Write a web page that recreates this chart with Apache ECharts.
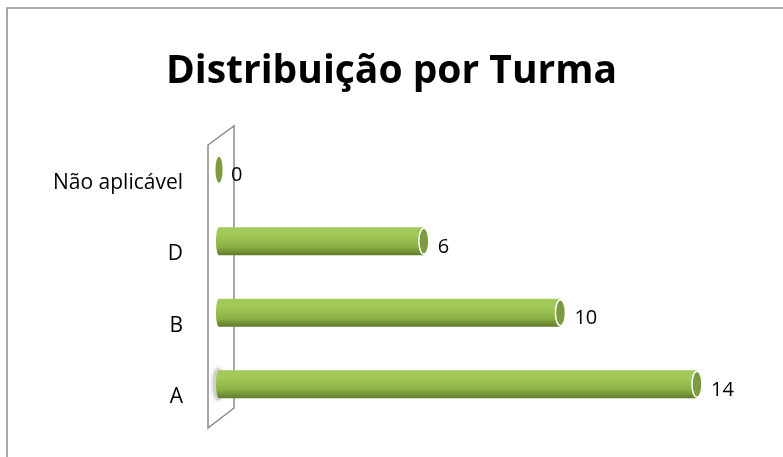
<!DOCTYPE html>
<html><head><meta charset="utf-8">
<script src="https://cdn.jsdelivr.net/npm/echarts@6/dist/echarts.min.js"></script>
<style>html,body{margin:0;padding:0;background:#fff}#c{width:783px;height:457px}</style>
</head><body><div id="c"></div>
<script>
const categories = ['A', 'B', 'D', 'Não aplicável'];
const values = [14, 10, 6, 0];
const titleText = 'Distribuição por Turma';

const chart = echarts.init(document.getElementById('c'));
const font = 'Open Sans';
const depth = 13;

function renderBar(params, api) {
  const v = api.value(1);
  const catIdx = api.value(0);
  const start = api.coord([0, catIdx]);
  const end = api.coord([v, catIdx]);
  const cy = start[1] - depth;
  const h = 28;
  const y = cy - h / 2;
  const grad = new echarts.graphic.LinearGradient(0, 0, 0, 1, [
    {offset: 0, color: '#a4c95c'},
    {offset: 0.3, color: '#a0c857'},
    {offset: 0.7, color: '#8bb045'},
    {offset: 1, color: '#5f7a2a'}
  ]);
  const children = [];
  if (v > 0) {
    if (catIdx === 0) {
      children.push({
        type: 'ellipse',
        shape: {cx: start[0] - 1, cy: cy, rx: 5, ry: h / 2 + 2},
        style: {fill: '#d0d0d0', shadowBlur: 4, shadowColor: 'rgba(0,0,0,0.3)'}
      });
    }
    children.push({
      type: 'rect',
      shape: {x: start[0], y: y, width: end[0] - start[0], height: h},
      style: {fill: grad}
    });
    children.push({
      type: 'ellipse',
      shape: {cx: start[0], cy: cy, rx: 3, ry: h / 2},
      style: {fill: grad}
    });
  }
  children.push({
    type: 'ellipse',
    shape: {cx: end[0], cy: cy, rx: v > 0 ? 5 : 3.5, ry: h / 2 - 1},
    style: {fill: '#7c9a3f', stroke: v > 0 ? '#ffffff' : null, lineWidth: v > 0 ? 1.5 : 0}
  });
  children.push({
    type: 'text',
    style: {
      text: String(v),
      x: end[0] + (v > 0 ? 14 : 12),
      y: cy + 6,
      verticalAlign: 'middle',
      align: 'left',
      fontFamily: font,
      fontSize: 20,
      fill: '#000'
    }
  });
  return {type: 'group', children: children};
}

chart.setOption({
  animation: false,
  title: {
    text: titleText,
    left: 'center',
    top: 47,
    textStyle: {fontFamily: font, fontWeight: 'bold', fontSize: 39, color: '#000'}
  },
  grid: {left: 219, width: 478, top: 147, height: 286},
  xAxis: {
    type: 'value', min: 0, max: 14,
    axisLine: {show: false}, axisTick: {show: false}, axisLabel: {show: false}, splitLine: {show: false}
  },
  yAxis: {
    type: 'category', data: categories,
    axisLine: {show: false}, axisTick: {show: false}, splitLine: {show: false},
    axisLabel: {fontFamily: font, fontSize: 21, color: '#000', margin: 36}
  },
  graphic: [
    {type: 'rect', shape: {x: 7, y: 8, width: 800, height: 460},
     style: {fill: 'none', stroke: '#8c8c8c', lineWidth: 1.5}, silent: true},
    {type: 'polygon', shape: {points: [[208, 145], [234, 126], [234, 408], [208, 428]]},
     style: {fill: '#ffffff', stroke: '#8a8a8a', lineWidth: 1.5}, z: 0}
  ],
  series: [{
    type: 'custom',
    renderItem: renderBar,
    encode: {x: 1, y: 0},
    data: values.map((v, i) => [i, v]),
    z: 5
  }]
});
</script></body></html>
